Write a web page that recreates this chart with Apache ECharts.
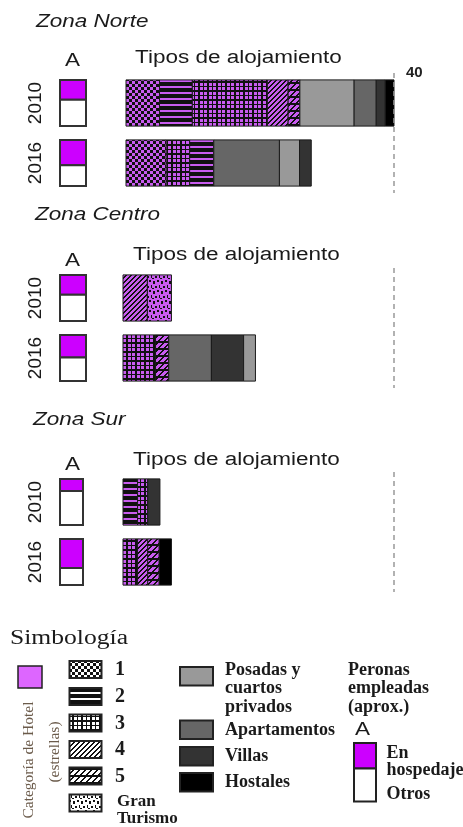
<!DOCTYPE html>
<html>
<head>
<meta charset="utf-8">
<script src="https://cdn.jsdelivr.net/npm/echarts@6/dist/echarts.min.js"></script>
<style>
    html, body { margin: 0; padding: 0; background: #fff; }
    #chart { width: 463px; height: 827px; }
</style>
</head>
<body>
<div id="chart"></div>
<script>
// años de cada zona
var anios = ['2010', '2016']
// claves de tipo de alojamiento (en el orden de la simbología)
var claves = ['e1', 'e2', 'e3', 'e4', 'e5', 'gt', 'posadas', 'apart', 'villas', 'hostales']
var estrellasEtiquetas = ['1', '2', '3', '4', '5']

// Zona Norte: segmentos de cada barra (en orden de dibujo)
var norte2010Tipos = ['e1', 'e2', 'e3', 'e4', 'e5', 'posadas', 'apart', 'villas', 'hostales']
var norte2010Valores = [5.0, 4.9, 11.2, 3.1, 1.75, 8.1, 3.3, 1.35, 1.3]
var norte2016Tipos = ['e1', 'e3', 'e2', 'apart', 'posadas', 'villas']
var norte2016Valores = [6.0, 3.5, 3.6, 9.8, 3.0, 1.75]
// Zona Centro
var centro2010Tipos = ['e4', 'gt']
var centro2010Valores = [3.6, 3.55]
var centro2016Tipos = ['e3', 'e5', 'apart', 'villas', 'posadas']
var centro2016Valores = [4.8, 1.95, 6.3, 4.75, 1.75]
// Zona Sur
var sur2010Tipos = ['e2', 'e3', 'villas']
var sur2010Valores = [2.15, 1.5, 1.8]
var sur2016Tipos = ['e3', 'e4', 'e5', 'hostales']
var sur2016Valores = [2.15, 1.5, 1.7, 1.8]

// % de personas empleadas en hospedaje (A)
var norteHospedaje = [43, 55]
var centroHospedaje = [43, 49]
var surHospedaje = [26, 63]

var PURPURA = '#c95cf0'
var SANS = '"Liberation Sans", Arial, sans-serif'
var SERIF = '"Liberation Serif", "Times New Roman", serif'

// reglas de píxel de cada trama (true = negro)
var tramas = {
    e1: { w: 6, h: 6, f: function (x, y) { return (Math.floor(x / 3) + Math.floor(y / 3)) % 2 === 0 } },
    e2: { w: 6, h: 6, f: function (x, y) { return !(y === 2 || y === 3) } },
    e3: { w: 9, h: 9, f: function (x, y) { return x === 0 || x === 1 || x === 5 || y === 0 || y === 1 || y === 5 } },
    e4: { w: 5, h: 5, f: function (x, y) { return (x + y) % 5 < 2 } },
    e5: { w: 6, h: 7, f: function (x, y) { return y >= 5 || (x + y) % 6 < 2 } },
    gt: { w: 8, h: 10, f: function (x, y) {
        return (x >= 1 && x <= 2 && y >= 1 && y <= 3) || (x >= 5 && x <= 6 && y >= 0 && y <= 1) ||
            (x >= 3 && x <= 4 && y >= 6 && y <= 7) || (x === 7 && y >= 5 && y <= 7) || (x >= 0 && x <= 1 && y === 8)
    } }
}

function crearTrama (clave, fondo) {
    var t = tramas[clave]
    var c = document.createElement('canvas')
    c.width = t.w
    c.height = t.h
    var ctx = c.getContext('2d')
    ctx.fillStyle = fondo
    ctx.fillRect(0, 0, t.w, t.h)
    ctx.fillStyle = '#111'
    for (var y = 0; y < t.h; y++) {
        for (var x = 0; x < t.w; x++) {
            if (t.f(x, y)) ctx.fillRect(x, y, 1, 1)
        }
    }
    return { image: c, repeat: 'repeat' }
}

var grises = { posadas: '#999999', apart: '#666666', villas: '#333333', hostales: '#000000' }
var rellenos = {}
var rellenosLeyenda = {}
claves.forEach(function (k) {
    if (tramas[k]) {
        rellenos[k] = crearTrama(k, PURPURA)
        rellenosLeyenda[k] = crearTrama(k, '#ffffff')
    } else {
        rellenos[k] = grises[k]
        rellenosLeyenda[k] = grises[k]
    }
})

// segmentos apilados [año, inicio, fin, tipo]
function segmentos (anioIdx, tipos, valores) {
    var acc = 0
    return tipos.map(function (t, i) {
        var ini = acc
        acc += valores[i]
        return [anioIdx, ini, acc, claves.indexOf(t)]
    })
}

function renderSegmento (params, api) {
    var yi = api.value(0)
    var p0 = api.coord([api.value(1), yi])
    var p1 = api.coord([api.value(2), yi])
    var h = api.size([0, 1])[1] * 0.77
    return {
        type: 'rect',
        shape: { x: p0[0], y: p0[1] - h / 2, width: p1[0] - p0[0], height: h },
        style: { fill: rellenos[claves[api.value(3)]], stroke: '#1a1a1a', lineWidth: 1 }
    }
}

function renderCaja (params, api) {
    var yi = api.value(0)
    var a = api.coord([0, yi])
    var b = api.coord([100, yi])
    var h = api.size([0, 1])[1] * 0.77
    var top = a[1] - h / 2
    var w = b[0] - a[0]
    var hp = h * api.value(1) / 100
    return {
        type: 'group',
        children: [
            { type: 'rect', shape: { x: a[0], y: top, width: w, height: hp }, style: { fill: '#cc00ff', stroke: '#333', lineWidth: 2 } },
            { type: 'rect', shape: { x: a[0], y: top + hp, width: w, height: h - hp }, style: { fill: '#fff', stroke: '#333', lineWidth: 2 } }
        ]
    }
}

var zonasTitulos = ['Zona Norte', 'Zona Centro', 'Zona Sur']
var zonasDatos = [
    segmentos(0, norte2010Tipos, norte2010Valores).concat(segmentos(1, norte2016Tipos, norte2016Valores)),
    segmentos(0, centro2010Tipos, centro2010Valores).concat(segmentos(1, centro2016Tipos, centro2016Valores)),
    segmentos(0, sur2010Tipos, sur2010Valores).concat(segmentos(1, sur2016Tipos, sur2016Valores))
]
var zonasHospedaje = [norteHospedaje, centroHospedaje, surHospedaje]

// layout
var zonaTop = [73, 268, 472]
var barraLeft = [126, 123, 123]
var barraWidth = [268, 271, 271]
var cajaWidth = [26, 26, 23]

var grid = [], xAxis = [], yAxis = [], series = []
zonasTitulos.forEach(function (z, i) {
    grid.push({ left: barraLeft[i], top: zonaTop[i], width: barraWidth[i], height: 120 })
    grid.push({ left: 60, top: zonaTop[i], width: cajaWidth[i], height: 120 })
    xAxis.push({
        gridIndex: 2 * i, type: 'value', min: 0, max: 40, interval: 40, position: 'top',
        show: i === 0,
        axisLine: { show: false }, axisTick: { show: false }, splitLine: { show: false },
        axisLabel: {
            showMaxLabel: true, showMinLabel: true,
            formatter: function (v) { return v === 40 ? '40' : '' },
            align: 'left', verticalAlign: 'middle', margin: 0, padding: [0, 0, 0, 12],
            fontSize: 15, fontWeight: 'bold', fontFamily: SANS, color: '#222'
        }
    })
    xAxis.push({ gridIndex: 2 * i + 1, type: 'value', min: 0, max: 100, show: false })
    yAxis.push({ gridIndex: 2 * i, type: 'category', data: anios, inverse: true, show: false })
    yAxis.push({
        gridIndex: 2 * i + 1, type: 'category', data: anios, inverse: true,
        axisLine: { show: false }, axisTick: { show: false },
        axisLabel: { rotate: 90, margin: 15, fontSize: 19, fontFamily: SANS, color: '#1a1a1a' }
    })
    series.push({
        name: z, type: 'custom', xAxisIndex: 2 * i, yAxisIndex: 2 * i,
        renderItem: renderSegmento, encode: { x: [1, 2], y: 0 }, data: zonasDatos[i],
        markLine: {
            silent: true, symbol: 'none', label: { show: false },
            lineStyle: { type: [5, 4], color: '#999', width: 1.5 },
            data: [{ xAxis: 40 }]
        }
    })
    series.push({
        name: z + ' A', type: 'custom', xAxisIndex: 2 * i + 1, yAxisIndex: 2 * i + 1,
        renderItem: renderCaja, encode: { x: 1, y: 0 },
        data: zonasHospedaje[i].map(function (p, j) { return [j, p] })
    })
})

// textos
function texto (t, x, y, o) {
    o = o || {}
    return {
        type: 'text', x: x, y: y, scaleX: o.sx || 1, rotation: o.rot || 0, z: 10,
        style: {
            text: t, fill: o.color || '#1a1a1a', fontSize: o.size || 18,
            fontFamily: o.family || SANS, fontWeight: o.weight || 'normal', fontStyle: o.italic ? 'italic' : 'normal',
            align: o.align || 'left', verticalAlign: 'middle', textAlign: o.align || 'left', textVerticalAlign: 'middle'
        }
    }
}
function caja (x, y, w, h, fill, lw) {
    return { type: 'rect', shape: { x: x, y: y, width: w, height: h }, style: { fill: fill, stroke: '#222', lineWidth: lw || 1.5 } }
}

var tituloY = [21.5, 215, 420]
var tituloX = [36, 35, 33]
var tiposY = [58.5, 255.5, 460]
var tiposX = [135, 133, 133]
var aY = [61.5, 261, 465]

var graficos = []
zonasTitulos.forEach(function (z, i) {
    graficos.push(texto(z, tituloX[i], tituloY[i], { size: 18, italic: true, sx: 1.25 }))
    graficos.push(texto('Tipos de alojamiento', tiposX[i], tiposY[i], { size: 18, sx: 1.25 }))
    graficos.push(texto('A', 72.5, aY[i], { size: 18, sx: 1.25, align: 'center' }))
})

// simbología
graficos.push(texto('Simbología', 10, 638.5, { size: 20, family: SERIF, sx: 1.28 }))
graficos.push(caja(18, 666, 24, 22, '#dd66ff'))
graficos.push(texto('Categoría de Hotel', 29, 760, { size: 15.5, family: SERIF, color: '#6b5b4b', rot: Math.PI / 2, align: 'center' }))
graficos.push(texto('(estrellas)', 55, 752, { size: 15.5, family: SERIF, color: '#6b5b4b', rot: Math.PI / 2, align: 'center' }))

var estrellasTop = [661, 688, 714.5, 741, 767.5, 794.5]
var estrellasClaves = ['e1', 'e2', 'e3', 'e4', 'e5', 'gt']
estrellasClaves.forEach(function (k, j) {
    graficos.push(caja(69.5, estrellasTop[j], 32, 17, rellenosLeyenda[k], 2))
    if (j < 5) graficos.push(texto(estrellasEtiquetas[j], 115, estrellasTop[j] + 9, { size: 20, family: SERIF, weight: 'bold' }))
})
graficos.push(texto('Gran', 117, 801.5, { size: 17, family: SERIF, weight: 'bold' }))
graficos.push(texto('Turismo', 117, 819, { size: 17, family: SERIF, weight: 'bold' }))

var grisesTop = [667, 720.5, 747, 773]
var grisesClaves = ['posadas', 'apart', 'villas', 'hostales']
grisesClaves.forEach(function (k, j) {
    graficos.push(caja(180, grisesTop[j], 33, 18.5, rellenosLeyenda[k], 2))
})
var B = { size: 18, family: SERIF, weight: 'bold' }
graficos.push(texto('Posadas y', 225, 670, B))
graficos.push(texto('cuartos', 225, 688.5, B))
graficos.push(texto('privados', 225, 707, B))
graficos.push(texto('Apartamentos', 225, 730, B))
graficos.push(texto('Villas', 225, 756, B))
graficos.push(texto('Hostales', 225, 782.5, B))

graficos.push(texto('Peronas', 348, 670, B))
graficos.push(texto('empleadas', 348, 688.5, B))
graficos.push(texto('(aprox.)', 348, 707, B))
graficos.push(texto('A', 362.5, 730, { size: 18, sx: 1.25, align: 'center' }))
graficos.push(caja(354, 743, 22, 25.5, '#cc00ff', 2))
graficos.push(caja(354, 768.5, 22, 33, '#ffffff', 2))
graficos.push(texto('En', 386.5, 753, B))
graficos.push(texto('hospedaje', 386.5, 770, B))
graficos.push(texto('Otros', 386.5, 794, B))

var chart = echarts.init(document.getElementById('chart'))
chart.setOption({
    animation: false,
    backgroundColor: '#fff',
    grid: grid,
    xAxis: xAxis,
    yAxis: yAxis,
    series: series,
    graphic: graficos
})
</script>
</body>
</html>
